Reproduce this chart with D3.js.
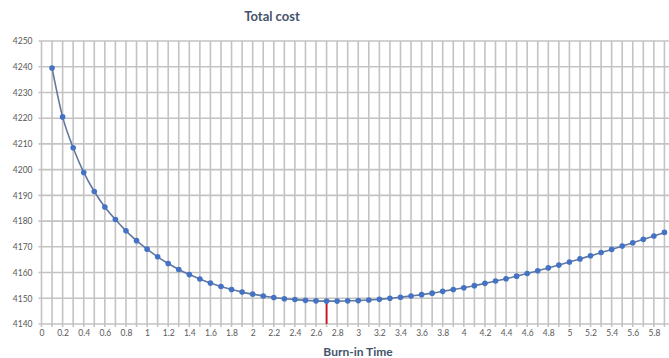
<!DOCTYPE html>
<html><head><meta charset="utf-8">
<script src="https://cdn.jsdelivr.net/npm/d3@7"></script>
<style>
html,body{margin:0;padding:0;background:#fff;overflow:hidden}
svg{display:block}
text{font-family:Lato,"Open Sans",sans-serif}
</style></head>
<body>
<script>
const burnInTime = d3.range(1, 60).map(i => +(i / 10).toFixed(1));
const totalCost = [
4239.5,4220.5,4208.5,4198.9,4191.5,4185.5,4180.6,4176.2,4172.4,4169.1,
4166.1,4163.5,4161.2,4159.2,4157.5,4155.9,4154.6,4153.4,4152.4,4151.6,
4150.9,4150.3,4149.8,4149.5,4149.2,4149.0,4148.9,4148.9,4149.0,4149.1,
4149.3,4149.6,4150.0,4150.4,4150.9,4151.4,4152.0,4152.7,4153.4,4154.1,
4154.9,4155.8,4156.7,4157.6,4158.6,4159.6,4160.7,4161.8,4162.9,4164.1,
4165.3,4166.5,4167.8,4169.0,4170.3,4171.6,4172.9,4174.2,4175.6];
const yTicks = [4140,4150,4160,4170,4180,4190,4200,4210,4220,4230,4240,4250];
const xLabelTicks = d3.range(0, 30).map(i => +(i * 0.2).toFixed(1));
const xGridTicks = d3.range(0, 61).map(i => +(i / 10).toFixed(1));
const optimumTime = 2.7;
const title = "Total cost";
const xTitle = "Burn-in Time";

const W = 669, H = 358;
const svg = d3.select("body").append("svg").attr("width", W).attr("height", H);
const x = d3.scaleLinear().domain([0, 6]).range([41.5, 675]);
const y = d3.scaleLinear().domain([4140, 4250]).range([324, 41]);

// grid
svg.append("g").selectAll("line").data(xGridTicks).join("line")
  .attr("x1", d => x(d)).attr("x2", d => x(d)).attr("y1", y(4250)).attr("y2", y(4140) + 3)
  .attr("stroke", "#c3c3c3").attr("stroke-width", 1.6);
svg.append("g").selectAll("line").data(yTicks).join("line")
  .attr("x1", x(0) - 3).attr("x2", 675).attr("y1", d => y(d)).attr("y2", d => y(d))
  .attr("stroke", "#c3c3c3").attr("stroke-width", 1.6);

// axes labels
const yAxis = d3.axisLeft(y).tickValues(yTicks).tickSize(0).tickPadding(9).tickFormat(d3.format("d"));
const gy = svg.append("g").attr("transform", `translate(${x(0)},0)`).call(yAxis);
gy.select(".domain").remove();
gy.selectAll("text").attr("font-size", 8.5).attr("fill", "#595959");

const xAxis = d3.axisBottom(x).tickValues(xLabelTicks).tickSize(0).tickPadding(6)
  .tickFormat(d => d3.format("~g")(d));
const gx = svg.append("g").attr("transform", `translate(0,${y(4140)})`).call(xAxis);
gx.select(".domain").remove();
gx.selectAll("text").attr("font-size", 8.5).attr("fill", "#595959");

// red marker line
const optIdx = burnInTime.indexOf(optimumTime);
svg.append("line").attr("x1", x(optimumTime)).attr("x2", x(optimumTime))
  .attr("y1", y(totalCost[optIdx])).attr("y2", y(4140))
  .attr("stroke", "#d0101a").attr("stroke-width", 1.8);

// series
const pts = burnInTime.map((t, i) => [t, totalCost[i]]);
svg.append("path").datum(pts)
  .attr("d", d3.line().x(d => x(d[0])).y(d => y(d[1])).curve(d3.curveMonotoneX))
  .attr("fill", "none").attr("stroke", "#62789f").attr("stroke-width", 1.6);
svg.append("g").selectAll("circle").data(pts).join("circle")
  .attr("cx", d => x(d[0])).attr("cy", d => y(d[1])).attr("r", 2.8)
  .attr("fill", "#4472c4");

// titles
svg.append("text").attr("x", 272).attr("y", 21).attr("text-anchor", "middle")
  .attr("font-size", 13).attr("font-weight", "bold").attr("fill", "#44546a").text(title);
svg.append("text").attr("x", 358).attr("y", 356).attr("text-anchor", "middle")
  .attr("font-size", 12).attr("font-weight", "bold").attr("fill", "#44546a").text(xTitle);
</script>
</body></html>
